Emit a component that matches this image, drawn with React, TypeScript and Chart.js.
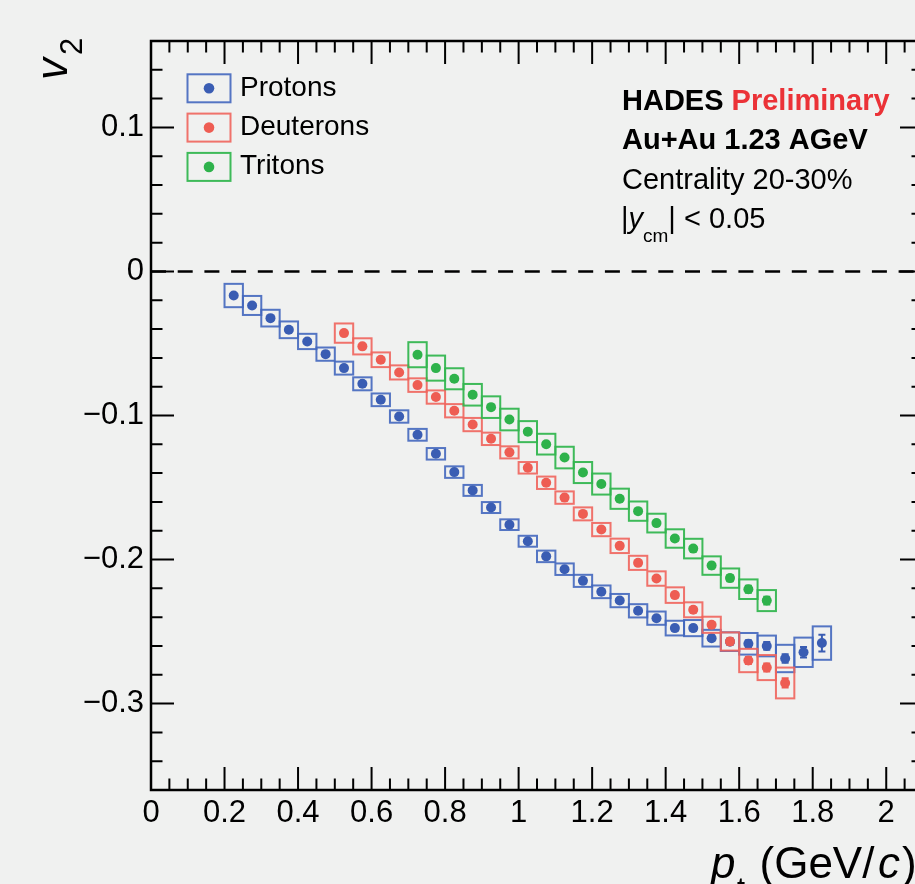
import React, { useEffect, useRef } from 'react';
import { Chart, registerables } from 'chart.js';

Chart.register(...registerables);

// ---------------- data ----------------
const seriesLabels = ['Protons', 'Deuterons', 'Tritons'];

const protonPt = [0.225, 0.275, 0.325, 0.375, 0.425, 0.475, 0.525, 0.575, 0.625, 0.675, 0.725, 0.775, 0.825, 0.875, 0.925, 0.975, 1.025, 1.075, 1.125, 1.175, 1.225, 1.275, 1.325, 1.375, 1.425, 1.475, 1.525, 1.575, 1.625, 1.675, 1.725, 1.775, 1.825];
const protonV2 = [-0.0167, -0.0236, -0.0324, -0.0405, -0.0486, -0.0574, -0.0671, -0.078, -0.0891, -0.1007, -0.1134, -0.1266, -0.1393, -0.152, -0.1639, -0.1758, -0.1873, -0.1978, -0.2067, -0.2148, -0.2224, -0.2285, -0.2356, -0.2407, -0.2476, -0.2476, -0.2546, -0.257, -0.2585, -0.26, -0.2687, -0.2644, -0.258];
const protonSys = [0.0081, 0.0066, 0.0058, 0.0058, 0.0053, 0.0046, 0.0045, 0.0045, 0.0044, 0.0043, 0.0041, 0.004, 0.004, 0.0038, 0.0038, 0.0037, 0.0038, 0.004, 0.004, 0.0042, 0.0044, 0.0046, 0.0046, 0.0046, 0.0051, 0.0056, 0.0058, 0.0065, 0.0075, 0.0072, 0.0095, 0.0102, 0.0116];
const protonStat = [0.001, 0.001, 0.001, 0.001, 0.001, 0.001, 0.001, 0.001, 0.001, 0.001, 0.001, 0.001, 0.001, 0.001, 0.001, 0.001, 0.001, 0.001, 0.001, 0.0012, 0.0012, 0.0013, 0.0014, 0.0015, 0.0016, 0.0018, 0.002, 0.0022, 0.0024, 0.0027, 0.003, 0.0036, 0.0058];

const deuteronPt = [0.525, 0.575, 0.625, 0.675, 0.725, 0.775, 0.825, 0.875, 0.925, 0.975, 1.025, 1.075, 1.125, 1.175, 1.225, 1.275, 1.325, 1.375, 1.425, 1.475, 1.525, 1.575, 1.625, 1.675, 1.725];
const deuteronV2 = [-0.0428, -0.052, -0.0613, -0.0701, -0.0789, -0.0872, -0.0967, -0.1063, -0.1162, -0.1256, -0.1363, -0.1467, -0.157, -0.1683, -0.1792, -0.1905, -0.2023, -0.2132, -0.2247, -0.2349, -0.2453, -0.2569, -0.2701, -0.275, -0.2857];
const deuteronSys = [0.0067, 0.0056, 0.0051, 0.0049, 0.0047, 0.0046, 0.0046, 0.0046, 0.0043, 0.0042, 0.004, 0.0043, 0.0043, 0.0045, 0.0046, 0.005, 0.0049, 0.005, 0.0054, 0.0052, 0.0056, 0.0063, 0.0081, 0.0087, 0.0107];
const deuteronStat = [0.001, 0.001, 0.001, 0.001, 0.001, 0.001, 0.001, 0.001, 0.001, 0.001, 0.001, 0.001, 0.001, 0.0012, 0.0012, 0.0013, 0.0014, 0.0015, 0.0016, 0.0018, 0.002, 0.0022, 0.0025, 0.0028, 0.0032];

const tritonPt = [0.725, 0.775, 0.825, 0.875, 0.925, 0.975, 1.025, 1.075, 1.125, 1.175, 1.225, 1.275, 1.325, 1.375, 1.425, 1.475, 1.525, 1.575, 1.625, 1.675];
const tritonV2 = [-0.0578, -0.0671, -0.0745, -0.0856, -0.0942, -0.1028, -0.1112, -0.1199, -0.1292, -0.1396, -0.1476, -0.1578, -0.1664, -0.1747, -0.1854, -0.1924, -0.2042, -0.2129, -0.2206, -0.2285];
const tritonSys = [0.0087, 0.0087, 0.0073, 0.0075, 0.0075, 0.0075, 0.0073, 0.0072, 0.0075, 0.0073, 0.0073, 0.007, 0.0067, 0.0065, 0.0064, 0.0068, 0.0064, 0.0067, 0.0068, 0.0073];
const tritonStat = [0.0012, 0.0012, 0.0012, 0.0012, 0.0012, 0.0012, 0.0012, 0.0012, 0.0012, 0.0013, 0.0013, 0.0014, 0.0015, 0.0016, 0.0017, 0.0018, 0.002, 0.0022, 0.0024, 0.0027];

const xTickValues = [0, 0.2, 0.4, 0.6, 0.8, 1, 1.2, 1.4, 1.6, 1.8, 2];
const xTickLabels = ['0', '0.2', '0.4', '0.6', '0.8', '1', '1.2', '1.4', '1.6', '1.8', '2'];
const yTickValues = [-0.3, -0.2, -0.1, 0, 0.1];
const yTickLabels = ['\u22120.3', '\u22120.2', '\u22120.1', '0', '0.1'];

const X_MIN = 0;
const X_MAX = 2.1;
const Y_MIN = -0.36;
const Y_MAX = 0.16;
const BIN_HALF = 0.025;

// ---------------- style ----------------
const FONT = "'Liberation Sans', Arial, Helvetica, sans-serif";
const BG = '#f0f1f0';
const dotColors = ['#3a5db3', '#ee5d53', '#2eb24b'];
const boxColors = ['rgba(66, 103, 190, 0.9)', 'rgba(240, 100, 92, 0.9)', 'rgba(52, 182, 80, 0.95)'];

const CANVAS_W = 940;
const CANVAS_H = 884;

function makeData(pt: number[], v2: number[]) {
  return pt.map((x, i) => ({ x, y: v2[i] }));
}

const rootPlugin = {
  id: 'rootStyle',
  beforeDatasetsDraw(chart: any) {
    const { ctx, chartArea: a, scales } = chart;
    const y0 = scales.y.getPixelForValue(0);
    ctx.save();
    ctx.strokeStyle = '#000';
    ctx.lineWidth = 2.5;
    ctx.setLineDash([15, 11.7]);
    ctx.beginPath();
    ctx.moveTo(a.left, y0);
    ctx.lineTo(a.right, y0);
    ctx.stroke();
    ctx.restore();
  },
  beforeDatasetDraw(chart: any, args: any) {
    const ds = chart.data.datasets[args.index];
    const { ctx, scales } = chart;
    const xs = scales.x;
    const ys = scales.y;
    ctx.save();
    ctx.strokeStyle = ds.boxColor;
    ctx.lineWidth = 2;
    ds.data.forEach((p: any, i: number) => {
      const x1 = xs.getPixelForValue(p.x - BIN_HALF);
      const x2 = xs.getPixelForValue(p.x + BIN_HALF);
      const y1 = ys.getPixelForValue(p.y + ds.sys[i]);
      const y2 = ys.getPixelForValue(p.y - ds.sys[i]);
      ctx.strokeRect(x1, y1, x2 - x1, y2 - y1);
    });
    ctx.strokeStyle = ds.pointBackgroundColor;
    ctx.lineWidth = 2;
    ds.data.forEach((p: any, i: number) => {
      const px = xs.getPixelForValue(p.x);
      const ya = ys.getPixelForValue(p.y + ds.stat[i]);
      const yb = ys.getPixelForValue(p.y - ds.stat[i]);
      ctx.beginPath();
      ctx.moveTo(px, ya);
      ctx.lineTo(px, yb);
      ctx.moveTo(px - 3.5, ya);
      ctx.lineTo(px + 3.5, ya);
      ctx.moveTo(px - 3.5, yb);
      ctx.lineTo(px + 3.5, yb);
      ctx.stroke();
    });
    ctx.restore();
  },
  afterDraw(chart: any) {
    const { ctx, chartArea: a, scales } = chart;
    const xs = scales.x;
    const ys = scales.y;
    ctx.save();
    // frame
    ctx.strokeStyle = '#000';
    ctx.lineWidth = 2.5;
    ctx.strokeRect(a.left, a.top, a.right - a.left, a.bottom - a.top);
    // inward ticks
    ctx.lineWidth = 2;
    ctx.beginPath();
    for (let i = 0; i <= 42; i++) {
      const v = i * 0.05;
      const len = i % 4 === 0 ? 23 : 11.5;
      const px = xs.getPixelForValue(v);
      ctx.moveTo(px, a.bottom);
      ctx.lineTo(px, a.bottom - len);
      ctx.moveTo(px, a.top);
      ctx.lineTo(px, a.top + len);
    }
    for (let i = -18; i <= 8; i++) {
      const v = i * 0.02;
      const len = i % 5 === 0 ? 23 : 11.5;
      const py = ys.getPixelForValue(v);
      ctx.moveTo(a.left, py);
      ctx.lineTo(a.left + len, py);
      ctx.moveTo(a.right, py);
      ctx.lineTo(a.right - len, py);
    }
    ctx.stroke();

    // legend
    chart.data.datasets.forEach((ds: any, k: number) => {
      const cy = a.top + 47.3 + k * 39.3;
      const bx = a.left + 36.5;
      ctx.strokeStyle = ds.boxColor;
      ctx.lineWidth = 2;
      ctx.strokeRect(bx, cy - 14, 43, 28);
      ctx.fillStyle = ds.pointBackgroundColor;
      ctx.beginPath();
      ctx.arc(bx + 21.5, cy, 5.3, 0, Math.PI * 2);
      ctx.fill();
      ctx.fillStyle = '#000';
      ctx.font = `28px ${FONT}`;
      ctx.textBaseline = 'alphabetic';
      ctx.textAlign = 'left';
      ctx.fillText(ds.label, bx + 52.5, cy + 7.5);
    });

    // annotation text
    ctx.fillStyle = '#000';
    ctx.textAlign = 'left';
    ctx.textBaseline = 'alphabetic';
    ctx.font = `bold 29px ${FONT}`;
    ctx.fillText('HADES', 622, 110);
    const wH = ctx.measureText('HADES ').width;
    ctx.fillStyle = '#eb3237';
    ctx.fillText('Preliminary', 622 + wH, 110);
    ctx.fillStyle = '#000';
    ctx.fillText('Au+Au 1.23 AGeV', 622, 149);
    ctx.font = `29px ${FONT}`;
    ctx.fillText('Centrality 20-30%', 622, 188.5);
    let cx = 621;
    const by = 228;
    ctx.fillText('|', cx, by);
    cx += ctx.measureText('|').width;
    ctx.font = `italic 29px ${FONT}`;
    ctx.fillText('y', cx, by);
    cx += ctx.measureText('y').width;
    ctx.font = `19px ${FONT}`;
    ctx.fillText('cm', cx, by + 13.5);
    cx += ctx.measureText('cm').width;
    ctx.font = `29px ${FONT}`;
    ctx.fillText('| < 0.05', cx, by);

    // y title v2 (rotated)
    ctx.save();
    ctx.translate(67, 80);
    ctx.rotate(-Math.PI / 2);
    ctx.font = `italic 44px ${FONT}`;
    ctx.fillText('v', 0, 0);
    ctx.font = `31px ${FONT}`;
    ctx.fillText('2', 25, 15);
    ctx.restore();

    // x title pt (GeV/c)
    ctx.font = `italic 44px ${FONT}`;
    ctx.fillText('p', 711, 878);
    ctx.font = `29px ${FONT}`;
    ctx.fillText('t', 737, 898);
    ctx.font = `44px ${FONT}`;
    ctx.fillText('(GeV/', 759.5, 878);
    ctx.font = `italic 44px ${FONT}`;
    ctx.fillText('c', 878, 878);
    ctx.font = `44px ${FONT}`;
    ctx.fillText(')', 902, 878);

    ctx.restore();
  },
};

export default function App() {
  const canvasRef = useRef<HTMLCanvasElement | null>(null);

  useEffect(() => {
    const canvas = canvasRef.current;
    if (!canvas) return;
    const datasets = [
      { label: seriesLabels[0], data: makeData(protonPt, protonV2), sys: protonSys, stat: protonStat, order: 3 },
      { label: seriesLabels[1], data: makeData(deuteronPt, deuteronV2), sys: deuteronSys, stat: deuteronStat, order: 2 },
      { label: seriesLabels[2], data: makeData(tritonPt, tritonV2), sys: tritonSys, stat: tritonStat, order: 1 },
    ].map((d, k) => ({
      ...d,
      boxColor: boxColors[k],
      pointBackgroundColor: dotColors[k],
      backgroundColor: dotColors[k],
      borderColor: dotColors[k],
      pointBorderWidth: 0,
      pointRadius: 5,
      pointHoverRadius: 5,
      showLine: false,
    }));

    const chart = new Chart(canvas, {
      type: 'scatter',
      data: { datasets } as any,
      options: {
        animation: false,
        responsive: false,
        devicePixelRatio: 1,
        events: [],
        layout: { padding: { top: 41, right: CANVAS_W - 923, left: 0, bottom: 0 } },
        plugins: { legend: { display: false }, tooltip: { enabled: false } },
        scales: {
          x: {
            type: 'linear',
            min: X_MIN,
            max: X_MAX,
            grid: { display: false, drawTicks: false },
            border: { display: false },
            afterBuildTicks: (s: any) => {
              s.ticks = xTickValues.map((value) => ({ value }));
            },
            afterFit: (s: any) => {
              s.height = CANVAS_H - 790;
            },
            ticks: {
              autoSkip: false,
              maxRotation: 0,
              padding: 5,
              color: '#000',
              font: { family: FONT, size: 31 },
              callback: (v: any) => {
                const i = xTickValues.findIndex((t) => Math.abs(t - v) < 1e-9);
                return i >= 0 ? xTickLabels[i] : '';
              },
            },
          },
          y: {
            type: 'linear',
            min: Y_MIN,
            max: Y_MAX,
            grid: { display: false, drawTicks: false },
            border: { display: false },
            afterBuildTicks: (s: any) => {
              s.ticks = yTickValues.map((value) => ({ value }));
            },
            afterFit: (s: any) => {
              s.width = 151;
            },
            ticks: {
              autoSkip: false,
              padding: 7,
              color: '#000',
              font: { family: FONT, size: 31 },
              callback: (v: any) => {
                const i = yTickValues.findIndex((t) => Math.abs(t - v) < 1e-9);
                return i >= 0 ? yTickLabels[i] : '';
              },
            },
          },
        },
      } as any,
      plugins: [rootPlugin as any],
    });
    return () => chart.destroy();
  }, []);

  return (
    <div
      style={{
        position: 'fixed',
        left: 0,
        top: 0,
        width: 915,
        height: 884,
        overflow: 'hidden',
        background: BG,
      }}
    >
      <canvas ref={canvasRef} width={CANVAS_W} height={CANVAS_H} style={{ display: 'block', width: CANVAS_W, height: CANVAS_H }} />
    </div>
  );
}
